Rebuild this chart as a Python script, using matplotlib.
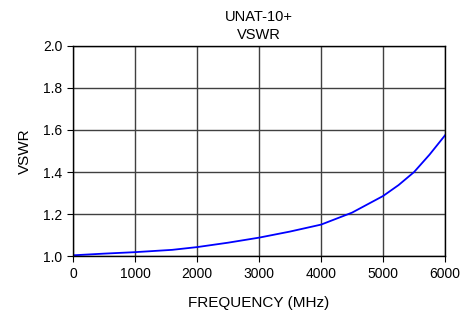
import matplotlib
matplotlib.use('Agg')
import matplotlib.pyplot as plt
import numpy as np

plt.rcParams['font.family'] = ['Liberation Sans', 'DejaVu Sans']

# dane
freq = [0, 500, 1000, 1600, 2000, 2500, 3000, 3500, 4000, 4500, 5000, 5250, 5500, 5750, 6000]
vswr = [1.004, 1.012, 1.019, 1.030, 1.043, 1.064, 1.088, 1.117, 1.150, 1.207, 1.286, 1.338, 1.400, 1.483, 1.575]

xticks = [0, 1000, 2000, 3000, 4000, 5000, 6000]
yticks = [1.0, 1.2, 1.4, 1.6, 1.8, 2.0]

fig = plt.figure(figsize=(4.74, 3.12), dpi=100)
ax = fig.add_axes([0.154, 0.179, 0.785, 0.674])

ax.plot(freq, vswr, color='#0000ff', linewidth=1.3)

ax.set_xlim(0, 6000)
ax.set_ylim(1.0, 2.0)
ax.set_xticks(xticks)
ax.set_yticks(yticks)
ax.set_yticklabels(['%.1f' % t for t in yticks])
ax.grid(True, color='#404040', linewidth=1.0)
ax.tick_params(direction='out', length=4, labelsize=10, colors='black')
for s in ax.spines.values():
    s.set_color('black')
    s.set_linewidth(1.0)

ax.set_title('UNAT-10+\nVSWR', fontsize=10.5, pad=5, linespacing=1.4)
ax.set_xlabel('FREQUENCY (MHz)', fontsize=11, labelpad=11)
ax.set_ylabel('VSWR', fontsize=11, labelpad=8)

plt.savefig('out.png', dpi=100)
